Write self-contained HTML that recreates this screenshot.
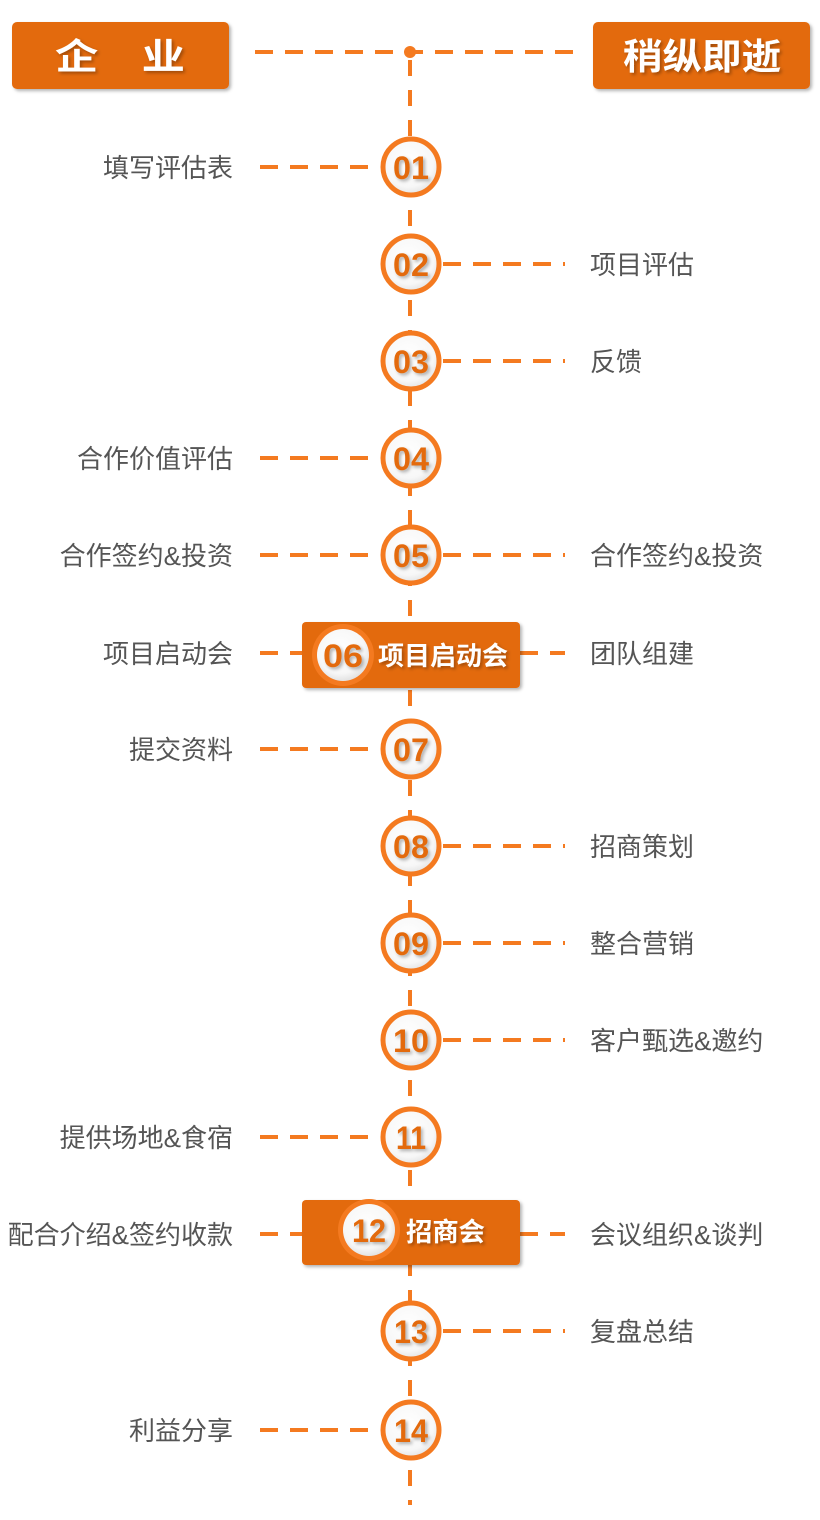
<!DOCTYPE html>
<html><head><meta charset="utf-8"><style>
html,body{margin:0;padding:0;background:#fff;width:820px;height:1520px;overflow:hidden}
svg{display:block}
.lbl{font-family:"Liberation Sans","Noto Sans CJK SC",sans-serif;font-size:26px;fill:#555}
.num{font-family:"Liberation Sans","Noto Sans CJK SC",sans-serif;font-size:32px;font-weight:bold;fill:#E36A0C}
.hd{font-family:"Noto Sans CJK SC","WenQuanYi Zen Hei",sans-serif;font-size:36px;font-weight:bold;fill:#fff}
.bx{font-family:"Noto Sans CJK SC","WenQuanYi Zen Hei",sans-serif;font-size:26px;font-weight:bold;fill:#fff}
</style></head><body>
<svg width="820" height="1520" viewBox="0 0 820 1520" xmlns="http://www.w3.org/2000/svg">
<defs>
<radialGradient id="g" cx="0.45" cy="0.4" r="0.65"><stop offset="0" stop-color="#fff"/><stop offset="0.7" stop-color="#f7f7f7"/><stop offset="1" stop-color="#dcdcdc"/></radialGradient>
<filter id="sh" x="-10%" y="-10%" width="130%" height="140%"><feDropShadow dx="2" dy="2" stdDeviation="1.5" flood-color="#000" flood-opacity="0.3"/></filter>
</defs>
<g stroke="#F47A20" stroke-width="4" fill="none">
<line x1="410" y1="52" x2="410" y2="1505" stroke-dasharray="16 14" stroke-dashoffset="-8"/>
<line x1="255" y1="52" x2="585" y2="52" stroke-dasharray="18 12"/>
</g>
<circle cx="410" cy="52" r="6" fill="#F47A20"/>
<rect x="12" y="22" width="217" height="67" rx="5" fill="#E36A0C" filter="url(#sh)"/>
<rect x="593" y="22" width="217" height="67" rx="5" fill="#E36A0C" filter="url(#sh)"/>
<text x="120" y="69" text-anchor="middle" class="hd" filter="url(#sh)" textLength="130" lengthAdjust="spacingAndGlyphs">企　业</text>
<text x="702" y="69" text-anchor="middle" class="hd" filter="url(#sh)" textLength="158" lengthAdjust="spacingAndGlyphs">稍纵即逝</text>
<g stroke="#F47A20" stroke-width="4" stroke-dasharray="18 12">
<line x1="260" y1="167" x2="380" y2="167"/>
<line x1="443" y1="264" x2="565" y2="264"/>
<line x1="443" y1="361" x2="565" y2="361"/>
<line x1="260" y1="458" x2="380" y2="458"/>
<line x1="260" y1="555" x2="380" y2="555"/>
<line x1="443" y1="555" x2="565" y2="555"/>
<line x1="260" y1="653" x2="302" y2="653"/>
<line x1="520" y1="653" x2="565" y2="653"/>
<line x1="260" y1="749" x2="380" y2="749"/>
<line x1="443" y1="846" x2="565" y2="846"/>
<line x1="443" y1="943" x2="565" y2="943"/>
<line x1="443" y1="1040" x2="565" y2="1040"/>
<line x1="260" y1="1137" x2="380" y2="1137"/>
<line x1="260" y1="1234" x2="302" y2="1234"/>
<line x1="520" y1="1234" x2="565" y2="1234"/>
<line x1="443" y1="1331" x2="565" y2="1331"/>
<line x1="260" y1="1430" x2="380" y2="1430"/>
</g>
<g stroke="#F47A20" stroke-width="5" fill="url(#g)">
<circle cx="411" cy="167" r="28"/><circle cx="411" cy="264" r="28"/><circle cx="411" cy="361" r="28"/>
<circle cx="411" cy="458" r="28"/><circle cx="411" cy="555" r="28"/><circle cx="411" cy="749" r="28"/>
<circle cx="411" cy="846" r="28"/><circle cx="411" cy="943" r="28"/><circle cx="411" cy="1040" r="28"/>
<circle cx="411" cy="1137" r="28"/><circle cx="411" cy="1331" r="28"/><circle cx="411" cy="1430" r="28"/>
</g>
<g class="num" text-anchor="middle" filter="url(#sh)">
<text x="411" y="179" textLength="36" lengthAdjust="spacingAndGlyphs">01</text>
<text x="411" y="276" textLength="36" lengthAdjust="spacingAndGlyphs">02</text>
<text x="411" y="373" textLength="36" lengthAdjust="spacingAndGlyphs">03</text>
<text x="411" y="470" textLength="36" lengthAdjust="spacingAndGlyphs">04</text>
<text x="411" y="567" textLength="36" lengthAdjust="spacingAndGlyphs">05</text>
<text x="411" y="761" textLength="36" lengthAdjust="spacingAndGlyphs">07</text>
<text x="411" y="858" textLength="36" lengthAdjust="spacingAndGlyphs">08</text>
<text x="411" y="955" textLength="36" lengthAdjust="spacingAndGlyphs">09</text>
<text x="411" y="1052" textLength="36" lengthAdjust="spacingAndGlyphs">10</text>
<text x="411" y="1149" textLength="30" lengthAdjust="spacingAndGlyphs">11</text>
<text x="411" y="1343" textLength="34" lengthAdjust="spacingAndGlyphs">13</text>
<text x="411" y="1442" textLength="34" lengthAdjust="spacingAndGlyphs">14</text>
</g>
<rect x="302" y="622" width="218" height="66" rx="4" fill="#E36A0C" filter="url(#sh)"/>
<circle cx="343" cy="655" r="31" fill="#F47A20"/>
<circle cx="343" cy="655" r="26" fill="url(#g)"/>
<text x="343" y="667" text-anchor="middle" class="num" filter="url(#sh)" textLength="40" lengthAdjust="spacingAndGlyphs">06</text>
<text x="378" y="665" class="bx" filter="url(#sh)" textLength="130" lengthAdjust="spacingAndGlyphs">项目启动会</text>
<rect x="302" y="1200" width="218" height="65" rx="4" fill="#E36A0C" filter="url(#sh)"/>
<circle cx="369" cy="1230" r="31" fill="#F47A20"/>
<circle cx="369" cy="1230" r="26" fill="url(#g)"/>
<text x="369" y="1242" text-anchor="middle" class="num" filter="url(#sh)" textLength="34" lengthAdjust="spacingAndGlyphs">12</text>
<text x="406" y="1241" class="bx" filter="url(#sh)" textLength="79" lengthAdjust="spacingAndGlyphs">招商会</text>
<g class="lbl" text-anchor="end">
<text x="233" y="177">填写评估表</text>
<text x="233" y="468">合作价值评估</text>
<text x="233" y="565">合作签约&amp;投资</text>
<text x="233" y="663">项目启动会</text>
<text x="233" y="759">提交资料</text>
<text x="233" y="1147">提供场地&amp;食宿</text>
<text x="233" y="1244">配合介绍&amp;签约收款</text>
<text x="233" y="1440">利益分享</text>
</g>
<g class="lbl">
<text x="590" y="274">项目评估</text>
<text x="590" y="371">反馈</text>
<text x="590" y="565">合作签约&amp;投资</text>
<text x="590" y="663">团队组建</text>
<text x="590" y="856">招商策划</text>
<text x="590" y="953">整合营销</text>
<text x="590" y="1050">客户甄选&amp;邀约</text>
<text x="590" y="1244">会议组织&amp;谈判</text>
<text x="590" y="1341">复盘总结</text>
</g>
</svg>
</body></html>
